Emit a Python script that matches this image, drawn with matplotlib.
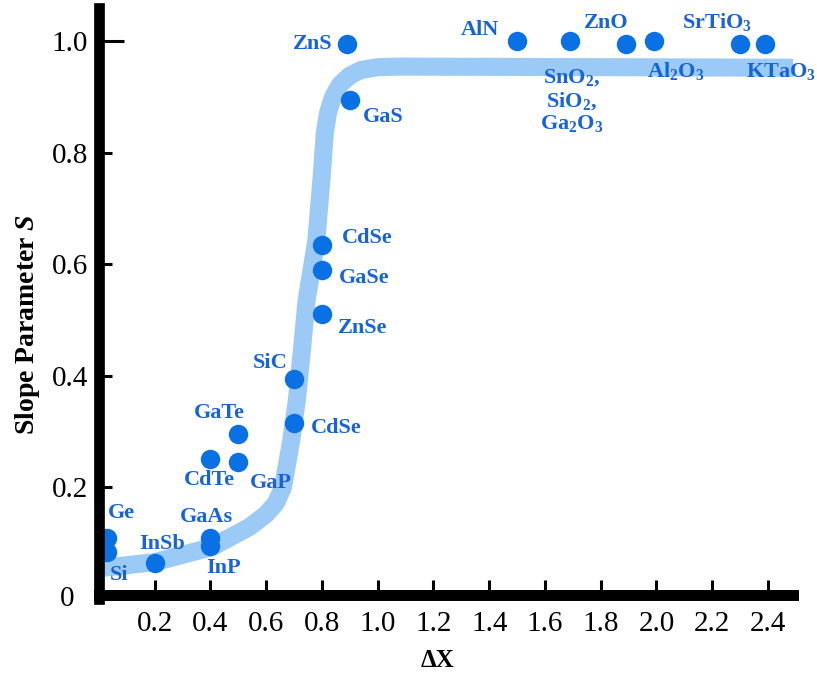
import matplotlib
matplotlib.use('Agg')
import matplotlib.pyplot as plt

plt.rcParams['font.family'] = 'Liberation Serif'
plt.rcParams['mathtext.fontset'] = 'custom'
plt.rcParams['mathtext.rm'] = 'Liberation Serif:bold'
plt.rcParams['mathtext.bf'] = 'Liberation Serif:bold'
plt.rcParams['mathtext.it'] = 'Liberation Serif:italic:bold'
plt.rcParams['mathtext.default'] = 'rm'

# Materialien: Delta X und Slope Parameter S
names = ['Ge', 'Si', 'InSb', 'GaAs', 'InP', 'CdTe', 'GaP', 'GaTe', 'CdSe', 'SiC',
         'ZnSe', 'GaSe', 'CdSe', 'GaS', 'ZnS', 'AlN', 'SnO$_2$,\nSiO$_2$,\nGa$_2$O$_3$',
         'ZnO', 'Al$_2$O$_3$', 'SrTiO$_3$', 'KTaO$_3$']
dx = [0.03, 0.03, 0.2, 0.4, 0.4, 0.4, 0.5, 0.5, 0.7, 0.7,
      0.8, 0.8, 0.8, 0.9, 0.89, 1.5, 1.69, 1.89, 1.99, 2.3, 2.39]
s = [0.11, 0.085, 0.065, 0.11, 0.095, 0.25, 0.245, 0.295, 0.315, 0.395,
     0.51, 0.59, 0.635, 0.895, 0.995, 1.0, 1.0, 0.995, 1.0, 0.995, 0.995]

# Trendkurve
curve_x = [0.0, 0.2, 0.405, 0.54, 0.6, 0.635, 0.66, 0.69, 0.71, 0.728, 0.745,
           0.78, 0.80, 0.81, 0.822, 0.84, 0.865, 0.9, 0.94, 1.0, 1.08, 2.49]
curve_y = [0.055, 0.066, 0.093, 0.129, 0.152, 0.172, 0.20, 0.285, 0.357, 0.446, 0.536,
           0.643, 0.764, 0.835, 0.872, 0.9, 0.922, 0.938, 0.948, 0.953, 0.954, 0.952]

# Label-Versatz in Pixel (dx, dy nach unten) und Ausrichtung
offsets = [(0, -25, 'left'), (2, 23, 'left'), (7, -19, 'center'), (-4, -21, 'center'),
           (13, 22, 'center'), (-1, 21, 'center'), (33, 21, 'center'), (-19, -21, 'center'),
           (17, 5, 'left'), (-7, -16, 'right'), (16, 14, 'left'), (17, 8, 'left'),
           (20, -7, 'left'), (13, 17, 'left'), (-15, 0, 'right'), (-18, -11, 'right'),
           (2, 60, 'center'), (-20, -21, 'center'), (22, 30, 'center'), (-23, -22, 'center'),
           (16, 28, 'center')]

dot_color = '#0a71e5'
text_color = '#1763d9'

fig = plt.figure(figsize=(8.17, 6.73), dpi=100)
ax = fig.add_axes([0.1212, 0.11, 0.8494, 0.8781])

ax.plot(curve_x, curve_y, color='#9bcaf7', lw=13, solid_joinstyle='round',
        solid_capstyle='butt', zorder=2)
ax.plot(dx, s, 'o', color=dot_color, ms=13, zorder=3, clip_on=False)

for n, x, y, (ox, oy, ha) in zip(names, dx, s, offsets):
    ax.annotate(n, xy=(x, y), xytext=(ox, -oy), textcoords='offset pixels',
                ha=ha, va='center', color=text_color, fontsize=16,
                fontweight='bold', linespacing=1.1, zorder=4)

ax.set_xlim(0, 2.49)
ax.set_ylim(0, 1.059)
ax.set_xticks([0.2, 0.4, 0.6, 0.8, 1.0, 1.2, 1.4, 1.6, 1.8, 2.0, 2.2, 2.4])
ax.set_xticklabels(['0.2', '0.4', '0.6', '0.8', '1.0', '1.2', '1.4', '1.6', '1.8', '2.0', '2.2', '2.4'])
ax.set_yticks([0.2, 0.4, 0.6, 0.8, 1.0])
ax.set_yticklabels(['0.2', '0.4', '0.6', '0.8', '1.0'])
ax.text(-0.046, 0, '0', transform=ax.get_yaxis_transform(), ha='center',
        va='center', fontsize=21)

for side in ['top', 'right']:
    ax.spines[side].set_visible(False)
ax.spines['left'].set_linewidth(7.7)
ax.spines['bottom'].set_linewidth(7.9)
ax.spines['bottom'].set_position(('data', 0.008))
ax.spines['left'].set_zorder(5)
ax.spines['bottom'].set_zorder(5)

ax.tick_params(axis='both', direction='in', width=2.2, labelsize=21)
ax.tick_params(axis='x', length=10.5, pad=12)
ax.tick_params(axis='y', length=9.5, pad=8)
ax.yaxis.get_major_ticks()[-1].tick1line.set_markersize(18)

ax.set_xlabel('ΔX', fontsize=18, fontweight='bold')
ax.set_ylabel('Slope Parameter $\\mathit{S}$', fontsize=20, fontweight='bold')
ax.xaxis.set_label_coords(0.487, -0.084)
ax.yaxis.set_label_coords(-0.082, 0.465)

fig.savefig('out.png', dpi=100)
